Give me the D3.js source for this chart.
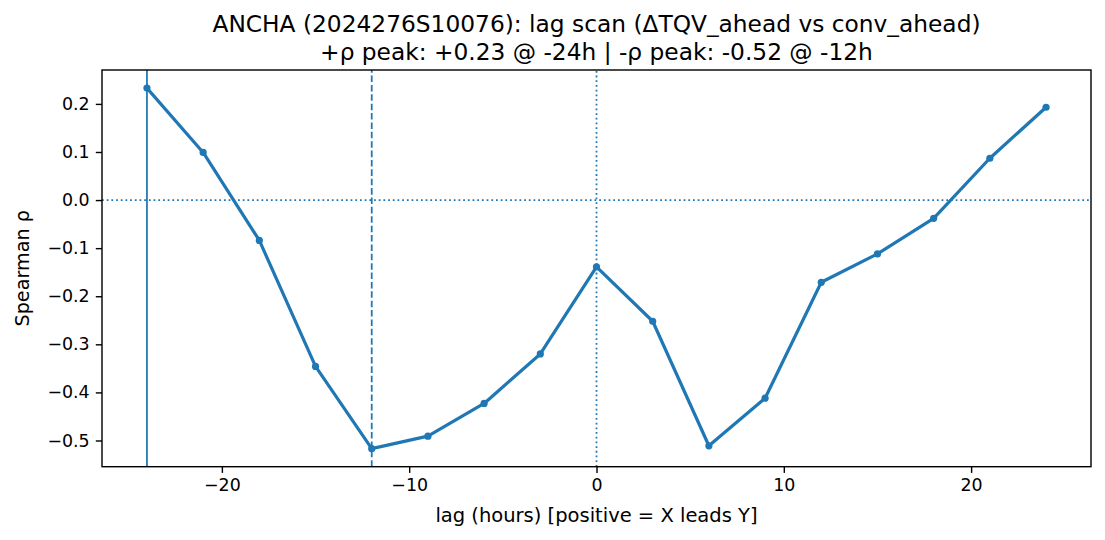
<!DOCTYPE html>
<html>
<head>
<meta charset="utf-8">
<script src="https://cdn.jsdelivr.net/npm/d3@7"></script>
<style>
  html, body { margin: 0; padding: 0; background: #fff; }
  svg { display: block; font-family: "DejaVu Sans", sans-serif; }
</style>
</head>
<body>
<svg id="chart" width="1105" height="540"></svg>
<script>
// ---- data ----
const lags = [-24, -21, -18, -15, -12, -9, -6, -3, 0, 3, 6, 9, 12, 15, 18, 21, 24];
const rho = [0.233, 0.099, -0.084, -0.346, -0.517, -0.491, -0.423, -0.320, -0.139, -0.252, -0.511, -0.412, -0.171, -0.112, -0.038, 0.087, 0.193];
const xTicks = [-20, -10, 0, 10, 20];
const yTicks = [-0.5, -0.4, -0.3, -0.2, -0.1, 0.0, 0.1, 0.2];
const posPeakLag = -24;
const negPeakLag = -12;
const titleLines = [
  "ANCHA (2024276S10076): lag scan (\u0394TQV_ahead vs conv_ahead)",
  "+\u03c1 peak: +0.23 @ -24h | -\u03c1 peak: -0.52 @ -12h"
];
const xLabel = "lag (hours) [positive = X leads Y]";
const yLabel = "Spearman \u03c1";

// ---- layout ----
const W = 1105, H = 540;
const m = { left: 102, right: 1105 - 1091, top: 70, bottom: 540 - 466.7 };
const color = "#1f77b4";
const pt = 1.77; // px per point
const svg = d3.select("#chart");

const xMin = d3.min(lags), xMax = d3.max(lags);
const xPad = (xMax - xMin) * 0.05;
const yMin = d3.min(rho), yMax = d3.max(rho);
const yPad = (yMax - yMin) * 0.05;

const x = d3.scaleLinear().domain([xMin - xPad, xMax + xPad]).range([m.left, W - m.right]);
const y = d3.scaleLinear().domain([yMin - yPad, yMax + yPad]).range([H - m.bottom, m.top]);

const fmtMinus = s => s.replace("-", "\u2212");

// reference lines
const lw = 1 * pt;
const dotted = `${1 * lw},${1.65 * lw}`;
const dashed = `${3.7 * lw},${1.6 * lw}`;
svg.append("line")
  .attr("x1", x.range()[0]).attr("x2", x.range()[1])
  .attr("y1", y(0)).attr("y2", y(0))
  .attr("stroke", color).attr("stroke-width", lw)
  .attr("stroke-dasharray", dotted);
svg.append("line")
  .attr("x1", x(0)).attr("x2", x(0))
  .attr("y1", y.range()[0]).attr("y2", y.range()[1])
  .attr("stroke", color).attr("stroke-width", lw)
  .attr("stroke-dasharray", dotted);
svg.append("line")
  .attr("x1", x(posPeakLag)).attr("x2", x(posPeakLag))
  .attr("y1", y.range()[0]).attr("y2", y.range()[1])
  .attr("stroke", color).attr("stroke-width", lw);
svg.append("line")
  .attr("x1", x(negPeakLag)).attr("x2", x(negPeakLag))
  .attr("y1", y.range()[0]).attr("y2", y.range()[1])
  .attr("stroke", color).attr("stroke-width", lw)
  .attr("stroke-dasharray", dashed);

// main line
const pts = lags.map((l, i) => [l, rho[i]]);
svg.append("path")
  .datum(pts)
  .attr("fill", "none")
  .attr("stroke", color)
  .attr("stroke-width", 3.2)
  .attr("stroke-linejoin", "round")
  .attr("stroke-linecap", "square")
  .attr("d", d3.line().x(d => x(d[0])).y(d => y(d[1])));

svg.selectAll("circle.pt")
  .data(pts)
  .enter().append("circle")
  .attr("class", "pt")
  .attr("cx", d => x(d[0])).attr("cy", d => y(d[1]))
  .attr("r", 3.6)
  .attr("fill", color);

// axes
const tickLen = 3.5 * pt, tickPad = 3.5 * pt;
const xAxis = d3.axisBottom(x).tickValues(xTicks).tickSize(tickLen).tickPadding(tickPad)
  .tickFormat(d => fmtMinus(d3.format("d")(d)));
const yAxis = d3.axisLeft(y).tickValues(yTicks).tickSize(tickLen).tickPadding(tickPad)
  .tickFormat(d => fmtMinus(d3.format(".1f")(d)));

const gx = svg.append("g").attr("transform", `translate(0,${y.range()[0]})`).call(xAxis);
const gy = svg.append("g").attr("transform", `translate(${x.range()[0]},0)`).call(yAxis);
[gx, gy].forEach(g => {
  g.select(".domain").remove();
  g.selectAll(".tick line").attr("stroke", "#000").attr("stroke-width", 0.8 * pt);
  g.selectAll(".tick text").attr("fill", "#000").style("font-size", "17.4px")
    .style("font-family", "'DejaVu Sans', sans-serif");
});

// frame
svg.append("rect")
  .attr("x", x.range()[0]).attr("y", y.range()[1])
  .attr("width", x.range()[1] - x.range()[0])
  .attr("height", y.range()[0] - y.range()[1])
  .attr("fill", "none").attr("stroke", "#000").attr("stroke-width", 0.8 * pt);

// labels
svg.append("text")
  .attr("x", (x.range()[0] + x.range()[1]) / 2).attr("y", 522)
  .attr("text-anchor", "middle").style("font-size", "19.5px")
  .text(xLabel);
svg.append("text")
  .attr("transform", `translate(29,${(y.range()[0] + y.range()[1]) / 2}) rotate(-90)`)
  .attr("text-anchor", "middle").style("font-size", "19.2px")
  .text(yLabel);

const title = svg.append("text")
  .attr("text-anchor", "middle").style("font-size", "23.3px");
titleLines.forEach((t, i) => {
  title.append("tspan")
    .attr("x", (x.range()[0] + x.range()[1]) / 2)
    .attr("y", 31.7 + i * 28)
    .text(t);
});
</script>
</body>
</html>
